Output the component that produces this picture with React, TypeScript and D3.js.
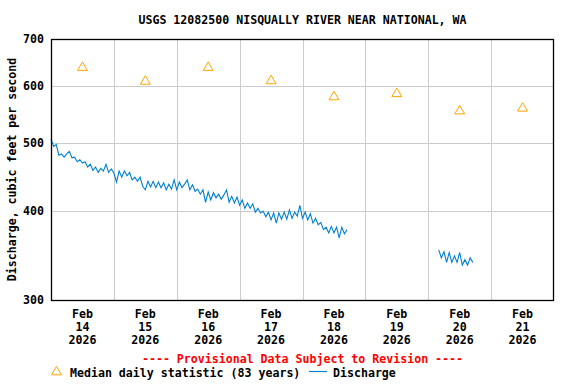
import React, { useEffect, useRef } from "react";
import * as d3 from "d3";

// median daily statistic, one per day (Feb 14 .. Feb 21)
const medianDays = [14, 15, 16, 17, 18, 19, 20, 21];
const medianValues = [638, 610, 638, 611, 580, 586, 554, 559];

// hourly discharge, first run starts Feb 14 00:00
const dischargeA = [
  506, 494, 497, 480, 482, 477, 482, 486, 476, 477, 470, 473, 468, 470, 462, 466,
  457, 462, 454, 460, 456, 466, 454, 459, 453, 440, 456, 447, 456, 449, 454, 443,
  447, 441, 447, 434, 429, 441, 433, 441, 432, 440, 432, 439, 429, 437, 430, 443,
  429, 440, 432, 437, 443, 429, 436, 427, 430, 423, 429, 412, 426, 415, 425, 418,
  423, 416, 422, 429, 412, 420, 411, 419, 408, 415, 404, 411, 404, 410, 399, 404,
  398, 400, 393, 399, 389, 398, 385, 398, 390, 399, 390, 402, 391, 399, 394, 408,
  391, 399, 389, 397, 385, 391, 383, 386, 377, 380, 373, 381, 373, 380, 367, 380,
  372, 377,
];
// second run starts Feb 20 04:00
const dischargeB = [353, 344, 351, 339, 350, 339, 346, 339, 350, 336, 342, 336, 344, 339];

const yTicks = [300, 400, 500, 600, 700];
const yGrid = [400, 500, 600];

const FONT = "'DejaVu Sans Mono', 'Liberation Mono', monospace";

const Chart = ({ width, height }) => {
  const svgRef = useRef();

  useEffect(() => {
    const margin = { top: 39, right: 22, bottom: 84, left: 51 };
    const svg = d3.select(svgRef.current).attr("width", width).attr("height", height);
    svg.selectAll("*").remove();

    const x = d3
      .scaleUtc()
      .domain([new Date(Date.UTC(2026, 1, 14)), new Date(Date.UTC(2026, 1, 22))])
      .range([margin.left, width - margin.right]);

    const y = d3
      .scaleLog()
      .domain([300, 700])
      .range([height - margin.bottom, margin.top]);

    const [x0, x1] = x.range();
    const [yb, yt] = y.range();
    const cx = (x0 + x1) / 2;

    // gridlines
    const days = d3.utcDay.range(new Date(Date.UTC(2026, 1, 15)), new Date(Date.UTC(2026, 1, 22)));
    svg
      .append("g")
      .selectAll("line")
      .data(days)
      .join("line")
      .attr("x1", (d) => Math.round(x(d)) + 0.5)
      .attr("x2", (d) => Math.round(x(d)) + 0.5)
      .attr("y1", yt)
      .attr("y2", yb)
      .attr("stroke", "#cccccc");

    svg
      .append("g")
      .selectAll("line")
      .data(yGrid)
      .join("line")
      .attr("x1", x0)
      .attr("x2", x1)
      .attr("y1", (d) => Math.round(y(d)) + 0.5)
      .attr("y2", (d) => Math.round(y(d)) + 0.5)
      .attr("stroke", "#cccccc");

    // discharge lines
    const line = d3
      .line()
      .x((d) => x(d.t))
      .y((d) => y(d.v));

    const toPoints = (vals, start) =>
      vals.map((v, i) => ({ t: new Date(start.getTime() + i * 3600000), v }));

    const runs = [
      toPoints(dischargeA, new Date(Date.UTC(2026, 1, 14, 0))),
      toPoints(dischargeB, new Date(Date.UTC(2026, 1, 20, 4))),
    ];

    svg
      .append("g")
      .selectAll("path")
      .data(runs)
      .join("path")
      .attr("d", line)
      .attr("fill", "none")
      .attr("stroke", "#0080d0")
      .attr("stroke-width", 1.1);

    // median triangles
    const tri = d3.symbol().type(d3.symbolTriangle).size(42);
    svg
      .append("g")
      .selectAll("path")
      .data(medianDays.map((d, i) => ({ t: new Date(Date.UTC(2026, 1, d, 12)), v: medianValues[i] })))
      .join("path")
      .attr("d", tri)
      .attr("transform", (d) => `translate(${x(d.t)},${y(d.v)})`)
      .attr("fill", "none")
      .attr("stroke", "#ffa500")
      .attr("stroke-width", 1);

    // frame
    svg
      .append("rect")
      .attr("x", x0 + 0.5)
      .attr("y", yt + 0.5)
      .attr("width", x1 - x0 - 1)
      .attr("height", yb - yt)
      .attr("fill", "none")
      .attr("stroke", "#000")
      .attr("stroke-width", 1.3);

    const text = (sel) =>
      sel.attr("font-family", FONT).attr("font-weight", "bold").attr("font-size", 11.6);

    // y tick labels
    svg
      .append("g")
      .selectAll("text")
      .data(yTicks)
      .join("text")
      .call(text)
      .attr("x", 44)
      .attr("y", (d) => y(d) + 4)
      .attr("text-anchor", "end")
      .text((d) => d);

    // x tick labels
    const xl = svg
      .append("g")
      .selectAll("text")
      .data(medianDays)
      .join("text")
      .call(text)
      .attr("text-anchor", "middle");
    [
      [318, () => "Feb"],
      [331, (d) => String(d)],
      [344, () => "2026"],
    ].forEach(([yy, f]) => {
      xl.append("tspan")
        .attr("x", (d) => x(new Date(Date.UTC(2026, 1, d, 12))))
        .attr("y", yy)
        .text(f);
    });

    // title
    svg
      .append("text")
      .call(text)
      .attr("x", cx)
      .attr("y", 24)
      .attr("text-anchor", "middle")
      .text("USGS 12082500 NISQUALLY RIVER NEAR NATIONAL, WA");

    // axis title
    svg
      .append("text")
      .call(text)
      .attr("transform", `translate(16,${(yt + yb) / 2}) rotate(-90)`)
      .attr("text-anchor", "middle")
      .text("Discharge, cubic feet per second");

    // provisional note
    svg
      .append("text")
      .call(text)
      .attr("x", cx)
      .attr("y", 363)
      .attr("text-anchor", "middle")
      .attr("fill", "#ff0000")
      .text("---- Provisional Data Subject to Revision ----");

    // legend
    const lg = svg.append("g");
    lg.append("path")
      .attr("d", tri)
      .attr("transform", "translate(56.5,372)")
      .attr("fill", "none")
      .attr("stroke", "#ffa500");
    lg.append("text").call(text).attr("x", 70).attr("y", 376.5).text("Median daily statistic (83 years)");
    lg.append("line")
      .attr("x1", 309)
      .attr("x2", 327)
      .attr("y1", 371.5)
      .attr("y2", 371.5)
      .attr("stroke", "#0080d0")
      .attr("stroke-width", 1.2);
    lg.append("text").call(text).attr("x", 333).attr("y", 376.5).text("Discharge");
  }, [width, height]);

  return <svg ref={svgRef} style={{ display: "block" }}></svg>;
};

export default function App() {
  return (
    <div style={{ position: "absolute", left: 0, top: 0, background: "#fff" }}>
      <Chart width={576} height={384} />
    </div>
  );
}
